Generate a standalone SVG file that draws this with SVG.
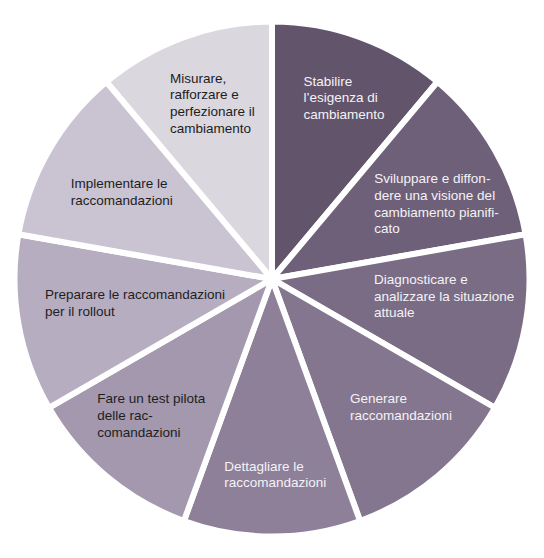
<svg xmlns="http://www.w3.org/2000/svg" width="544" height="558" viewBox="0 0 544 558">
  <style>
    .seg { stroke: #ffffff; stroke-width: 6; stroke-linejoin: round; }
    text { font-family: "Liberation Sans", Arial, sans-serif; font-size: 13.5px; }
    .lt { fill: #f4f2f6; }
    .dk { fill: #1e1e1e; }
  </style>
  <rect x="0" y="0" width="544" height="558" fill="#ffffff"/>
  <g id="n1">
    <path class="seg" fill="#62546b" d="M272,279 L272,21.5 A257.5,257.5 0 0 1 437.5,81.8 Z"/>
    <text class="lt"><tspan x="303.5" y="85.7">Stabilire</tspan><tspan x="303.5" y="102.4">l’esigenza di</tspan><tspan x="303.5" y="119.1">cambiamento</tspan></text>
  </g>
  <g id="n2">
    <path class="seg" fill="#6e6079" d="M272,279 L437.5,81.8 A257.5,257.5 0 0 1 525.6,234.3 Z"/>
    <text class="lt"><tspan x="374.3" y="183.3">Sviluppare e diffon-</tspan><tspan x="374.3" y="200">dere una visione del</tspan><tspan x="374.3" y="216.7">cambiamento pianifi-</tspan><tspan x="374.3" y="233.4">cato</tspan></text>
  </g>
  <g id="n3">
    <path class="seg" fill="#7a6c84" d="M272,279 L525.6,234.3 A257.5,257.5 0 0 1 495,407.75 Z"/>
    <text class="lt"><tspan x="374" y="284">Diagnosticare e</tspan><tspan x="374" y="300.7">analizzare la situazione</tspan><tspan x="374" y="317.4">attuale</tspan></text>
  </g>
  <g id="n4">
    <path class="seg" fill="#84768e" d="M272,279 L495,407.75 A257.5,257.5 0 0 1 360.1,521 Z"/>
    <text class="lt"><tspan x="350" y="403.3">Generare</tspan><tspan x="350" y="420">raccomandazioni</tspan></text>
  </g>
  <g id="n5">
    <path class="seg" fill="#8e8099" d="M272,279 L360.1,521 A257.5,257.5 0 0 1 183.9,521 Z"/>
    <text class="lt"><tspan x="224.3" y="470.7">Dettagliare le</tspan><tspan x="224.3" y="487.4">raccomandazioni</tspan></text>
  </g>
  <g id="n6">
    <path class="seg" fill="#a398ae" d="M272,279 L183.9,521 A257.5,257.5 0 0 1 49,407.75 Z"/>
    <text class="dk"><tspan x="97.3" y="403.3">Fare un test pilota</tspan><tspan x="97.3" y="420">delle rac-</tspan><tspan x="97.3" y="436.7">comandazioni</tspan></text>
  </g>
  <g id="n7">
    <path class="seg" fill="#b6adc1" d="M272,279 L49,407.75 A257.5,257.5 0 0 1 18.4,234.3 Z"/>
    <text class="dk"><tspan x="45" y="299">Preparare le raccomandazioni</tspan><tspan x="45" y="315.7">per il rollout</tspan></text>
  </g>
  <g id="n8">
    <path class="seg" fill="#c9c3d2" d="M272,279 L18.4,234.3 A257.5,257.5 0 0 1 106.5,81.8 Z"/>
    <text class="dk"><tspan x="70.7" y="188.3">Implementare le</tspan><tspan x="70.7" y="205">raccomandazioni</tspan></text>
  </g>
  <g id="n9">
    <path class="seg" fill="#dad7df" d="M272,279 L106.5,81.8 A257.5,257.5 0 0 1 272,21.5 Z"/>
    <text class="dk"><tspan x="170" y="82.7">Misurare,</tspan><tspan x="170" y="99.4">rafforzare e</tspan><tspan x="170" y="116.1">perfezionare il</tspan><tspan x="170" y="132.8">cambiamento</tspan></text>
  </g>
  <g id="connectors"></g>
</svg>
